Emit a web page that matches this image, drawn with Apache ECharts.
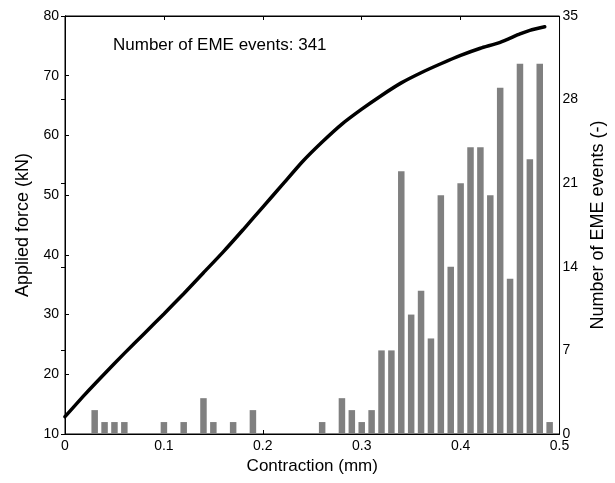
<!DOCTYPE html>
<html><head><meta charset="utf-8">
<script src="https://cdn.jsdelivr.net/npm/echarts@6/dist/echarts.min.js"></script>
<style>html,body{margin:0;padding:0;background:#fff}#c{width:615px;height:483px}</style>
</head><body><div id="c"></div>
<script>
const binX = [0.03,0.04,0.05,0.06,0.10,0.12,0.14,0.15,0.17,0.19,0.26,0.28,0.29,0.30,0.31,0.32,0.33,0.34,0.35,0.36,0.37,0.38,0.39,0.40,0.41,0.42,0.43,0.44,0.45,0.46,0.47,0.48,0.49];
const binCounts = [2,1,1,1,1,1,3,1,1,2,1,3,2,1,2,7,7,22,10,12,8,20,14,21,24,24,20,29,13,31,23,31,1];
const contraction = [0,0.02,0.04,0.06,0.08,0.10,0.12,0.14,0.16,0.18,0.20,0.22,0.24,0.26,0.28,0.30,0.32,0.34,0.36,0.38,0.40,0.42,0.44,0.46,0.47,0.485];
const force = [12.9,16.6,20.1,23.5,26.8,30.1,33.5,37.0,40.5,44.2,48.0,51.8,55.6,58.9,61.9,64.4,66.7,68.8,70.5,72.0,73.4,74.6,75.6,77.0,77.6,78.2];
const xTicks = {min:0,max:0.5,interval:0.1};
const annotation = 'Number of EME events: 341';

const chart = echarts.init(document.getElementById('c'));
const font = 'Liberation Sans, Arial, sans-serif';
chart.setOption({
  animation:false,
  grid:{left:65,right:52,top:16,bottom:49,show:true,borderColor:'#000',borderWidth:1},
  xAxis:[{type:'value',min:xTicks.min,max:xTicks.max,interval:xTicks.interval,
    name:'Contraction (mm)',nameLocation:'middle',nameGap:24,
    nameTextStyle:{color:'#000',fontSize:17,fontFamily:font},
    axisLine:{lineStyle:{color:'#000'}},axisTick:{inside:true,length:4,lineStyle:{color:'#000'}},
    axisLabel:{color:'#000',fontSize:14,fontFamily:font,margin:5},splitLine:{show:false}},
   {type:'value',position:'top',min:xTicks.min,max:xTicks.max,interval:xTicks.interval,
    axisLine:{lineStyle:{color:'#000'}},axisTick:{inside:true,length:4,lineStyle:{color:'#000'}},
    axisLabel:{show:false},splitLine:{show:false}}],
  yAxis:[{type:'value',min:10,max:80,interval:10,name:'Applied force (kN)',nameLocation:'middle',nameGap:32,
    nameTextStyle:{color:'#000',fontSize:18,fontFamily:font},
    axisLine:{show:true,lineStyle:{color:'#000'}},axisTick:{show:true,inside:true,length:4,lineStyle:{color:'#000'}},
    axisLabel:{color:'#000',fontSize:14,fontFamily:font,margin:6},splitLine:{show:false}},
   {type:'value',min:0,max:35,interval:7,position:'right',name:'Number of EME events (-)',nameLocation:'middle',nameGap:27,
    nameRotate:90,
    nameTextStyle:{color:'#000',fontSize:18,fontFamily:font},
    axisLine:{show:true,lineStyle:{color:'#000'}},axisTick:{show:true,inside:true,length:4,lineStyle:{color:'#000'}},
    axisLabel:{color:'#000',fontSize:14,fontFamily:font,margin:3},splitLine:{show:false}}],
  graphic:[{type:'text',left:113,top:37,style:{text:annotation,fill:'#000',fontSize:17,fontFamily:font}}],
  series:[
    {type:'bar',xAxisIndex:0,yAxisIndex:1,barWidth:6.5,itemStyle:{color:'#808080'},
     data:binX.map((x,i)=>[x,binCounts[i]]),z:1},
    {type:'line',xAxisIndex:0,yAxisIndex:0,symbol:'none',smooth:0.2,lineStyle:{color:'#000',width:3.5,cap:'round'},
     data:contraction.map((x,i)=>[x,force[i]]),z:5}
  ]
});
</script></body></html>
